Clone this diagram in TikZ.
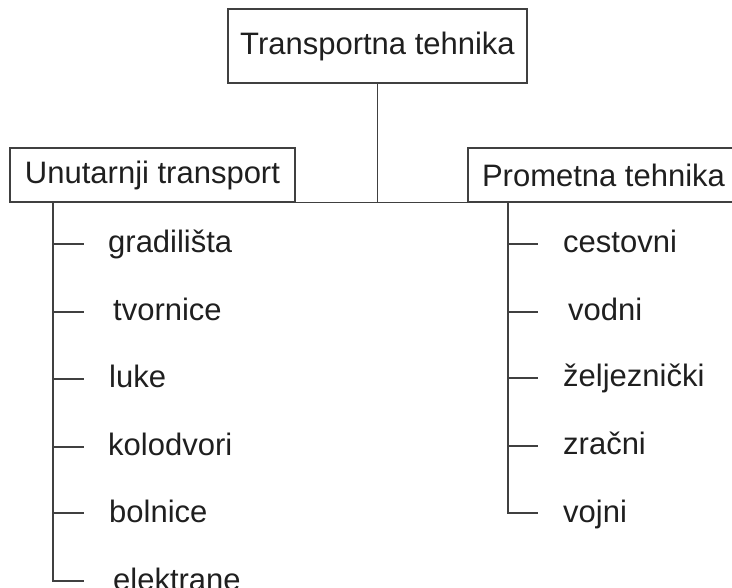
\documentclass[tikz,border=0pt]{standalone}
\usepackage{fontspec}
\setmainfont{Liberation Sans}
\usepackage{tikz}
\usetikzlibrary{positioning}

\tikzset{
	okvir/.style={draw=black!75, line width=1.1pt, inner sep=0pt, text=black!88},
	stavka/.style={anchor=west, inner sep=0pt, text height=22pt, text depth=4pt, text=black!88},
	crta/.style={draw=black!75, line width=1.1pt}
}

\begin{document}
\begin{tikzpicture}[x=1pt, y=-1pt, font=\fontsize{31}{37}\selectfont]
		\useasboundingbox (0,0) rectangle (732,588);
		%Okviri
		\node [okvir, minimum width=299pt, minimum height=74pt] (vrh) at (377.5,46) {Transportna tehnika};
		\node [okvir, minimum width=285pt, minimum height=54pt] (unutarnji) at (152.5,175) {Unutarnji transport};
		\node [okvir, minimum width=271pt, minimum height=54pt] (prometna) at (603.5,175) {Prometna tehnika};
		\coordinate (spoj) at (vrh.south |- unutarnji.south);
		\draw [crta] (vrh.south) -- (spoj);
		\draw [crta] (unutarnji.south east) -- (prometna.south west);
		%1
		\coordinate (deblo1) at (53,202);
		\node [stavka] (gradilista) at (108,244) {gradilišta};
		\node [stavka] (tvornice) at (113,312) {tvornice};
		\node [stavka] (luke) at (109,379) {luke};
		\node [stavka] (kolodvori) at (108,447) {kolodvori};
		\node [stavka] (bolnice) at (109,513) {bolnice};
		\node [stavka] (elektrane) at (113,581) {elektrane};
		\draw [crta] (deblo1) -- (deblo1 |- elektrane.west) -- ++(31,0);
		\draw [crta] (deblo1 |- gradilista.west) -- ++(31,0);
		\draw [crta] (deblo1 |- tvornice.west) -- ++(31,0);
		\draw [crta] (deblo1 |- luke.west) -- ++(31,0);
		\draw [crta] (deblo1 |- kolodvori.west) -- ++(31,0);
		\draw [crta] (deblo1 |- bolnice.west) -- ++(31,0);
		%2
		\coordinate (deblo2) at (508,202);
		\node [stavka] (cestovni) at (563,244) {cestovni};
		\node [stavka] (vodni) at (568,312) {vodni};
		\node [stavka] (zeljeznicki) at (563,378) {željeznički};
		\node [stavka] (zracni) at (563,446) {zračni};
		\node [stavka] (vojni) at (563,513) {vojni};
		\draw [crta] (deblo2) -- (deblo2 |- vojni.west) -- ++(30,0);
		\draw [crta] (deblo2 |- cestovni.west) -- ++(30,0);
		\draw [crta] (deblo2 |- vodni.west) -- ++(30,0);
		\draw [crta] (deblo2 |- zeljeznicki.west) -- ++(30,0);
		\draw [crta] (deblo2 |- zracni.west) -- ++(30,0);
	\end{tikzpicture}
\end{document}
